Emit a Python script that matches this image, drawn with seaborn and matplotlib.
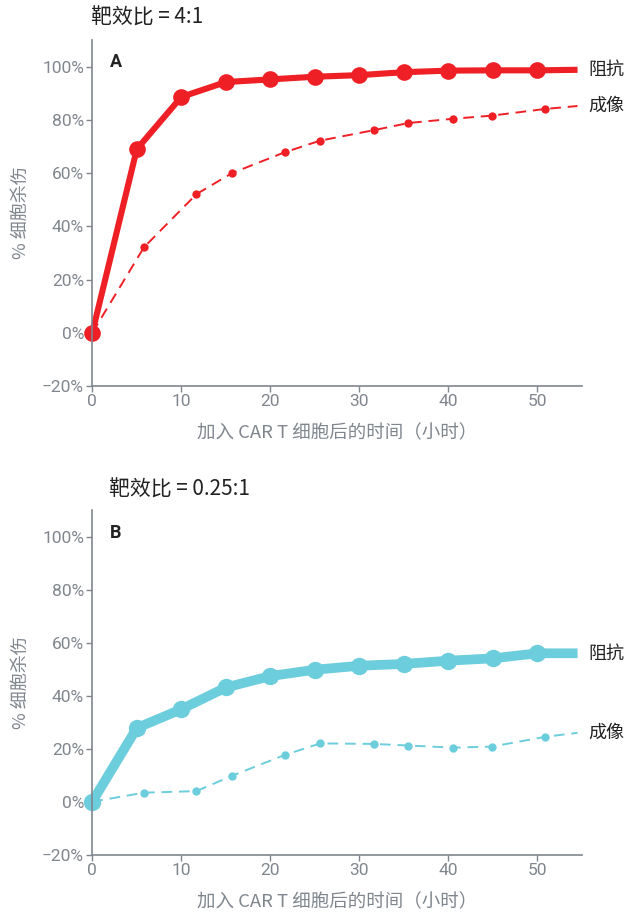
import matplotlib
matplotlib.use("Agg")
import matplotlib.pyplot as plt
import seaborn as sns
import pandas as pd
from matplotlib.ticker import FuncFormatter

# ---- data -------------------------------------------------------------
# impedance readings (every 5 h); the trailing reading has no marker
imp_hours = [0, 5, 10, 15, 20, 25, 30, 35, 40, 45, 50, 54.5]
imp_a = [0, 69, 88.6, 94.2, 95.2, 96.2, 96.8, 97.9, 98.5, 98.6, 98.6, 98.8]
imp_b = [0, 27.8, 34.9, 43.1, 47.4, 49.8, 51.3, 52.0, 53.2, 54.1, 56.0, 56.0]

# imaging readings
img_hours = [0, 5.8, 11.7, 15.7, 21.6, 25.6, 31.6, 35.5, 40.5, 44.9, 50.9, 54.5]
img_a = [0, 32.1, 52.1, 60.0, 67.8, 72.2, 76.1, 78.8, 80.4, 81.6, 84.1, 85.2]
img_b = [0, 3.4, 4.0, 9.8, 17.6, 22.0, 21.8, 21.2, 20.4, 20.8, 24.5, 26.0]

panel_letters = ["A", "B"]
panel_titles = ["靶效比 = 4:1", "靶效比 = 0.25:1"]
series_names = ["阻抗", "成像"]
x_label = "加入 CAR T 细胞后的时间（小时）"
y_label = "% 细胞杀伤"
x_ticks = [0, 10, 20, 30, 40, 50]
y_ticks = [-20, 0, 20, 40, 60, 80, 100]

RED = "#ee2025"
CYAN = "#6ccddc"
GREY = "#80868e"
DARK = "#222222"

sns.set_theme(style="white")
plt.rcParams["font.family"] = ["Roboto", "Noto Sans CJK SC", "DejaVu Sans"]
plt.rcParams["axes.unicode_minus"] = True

fig = plt.figure(figsize=(6.27, 9.15), dpi=100)

# axes rectangles in figure fraction
rects = [
    [92.3 / 627, 1 - 386.0 / 915, (582 - 92.3) / 627, (386.0 - 40.0) / 915],
    [92.3 / 627, 1 - 854.7 / 915, (582 - 92.3) / 627, (854.7 - 510.2) / 915],
]
title_pos = [(91 / 627, 1 - 18 / 915), (109 / 627, 1 - 490 / 915)]

panels = [
    (imp_a, img_a, RED, 4.4, 12.0),
    (imp_b, img_b, CYAN, 7.0, 12.5),
]

cjk = ["Noto Sans CJK SC", "Roboto", "DejaVu Sans"]

for i, (imp, img, color, lw, ms) in enumerate(panels):
    ax = fig.add_axes(rects[i])
    df_imp = pd.DataFrame({"h": imp_hours, "v": imp})
    df_img = pd.DataFrame({"h": img_hours, "v": img})

    n_imp = len(imp_hours) - 1
    n_img = len(img_hours) - 1

    sns.lineplot(data=df_img, x="h", y="v", ax=ax, color=color,
                 linewidth=1.4, linestyle=(0, (5.5, 3.5)),
                 marker="o", markersize=6, markeredgewidth=0,
                 markevery=list(range(1, n_img)), clip_on=False)
    sns.lineplot(data=df_imp, x="h", y="v", ax=ax, color=color,
                 linewidth=lw, solid_capstyle="butt",
                 marker="o", markersize=ms,
                 markeredgewidth=0, markevery=list(range(n_imp)),
                 clip_on=False)

    ax.set_xlim(0, 55)
    ax.set_ylim(-20, 110)
    ax.set_xticks(x_ticks)
    ax.set_yticks(y_ticks)
    ax.yaxis.set_major_formatter(FuncFormatter(
        lambda v, p: ("\u2212" if v < 0 else "") + f"{abs(int(v))}%"))

    sns.despine(ax=ax)
    for side in ["left", "bottom"]:
        ax.spines[side].set_color(GREY)
        ax.spines[side].set_linewidth(1.2)
    ax.tick_params(axis="both", colors=GREY, labelsize=12.5, length=4,
                   width=1, direction="out", pad=2, bottom=True, left=True)

    ax.set_xlabel(x_label, fontsize=13.3, color=GREY, family=cjk, labelpad=11)
    ax.set_ylabel(y_label, fontsize=13, color=GREY, family=cjk, labelpad=9)

    ax.text(0.048, 0.935, panel_letters[i], transform=ax.transAxes,
            fontsize=13, fontweight="bold", color=DARK, ha="center",
            va="center", family=["Roboto", "DejaVu Sans"])

    fig.text(title_pos[i][0], title_pos[i][1], panel_titles[i],
             fontsize=15, color=DARK, ha="left", va="center", family=cjk)

    # direct series labels to the right of the plotting area
    ax.annotate(series_names[0], xy=(1.0, imp[-1]),
                xycoords=("axes fraction", "data"), xytext=(4.5, 0),
                textcoords="offset points", fontsize=13, color=DARK,
                va="center", ha="left", family=cjk, annotation_clip=False)
    ax.annotate(series_names[1], xy=(1.0, img[-1]),
                xycoords=("axes fraction", "data"), xytext=(4.5, 0),
                textcoords="offset points", fontsize=13, color=DARK,
                va="center", ha="left", family=cjk, annotation_clip=False)

    ax.set_facecolor("white")

fig.savefig("out.png", dpi=100, facecolor="white")
